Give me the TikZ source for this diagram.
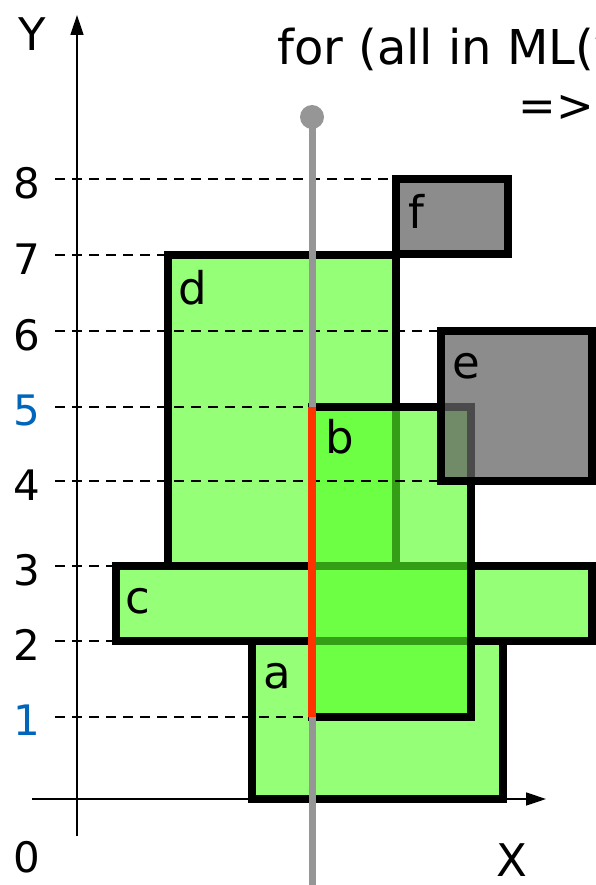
\documentclass[tikz,border=0pt]{standalone}
\usepackage{fontspec}
\setmainfont{DejaVu Sans}
\usetikzlibrary{arrows.meta}
\definecolor{boxgreen}{RGB}{150,255,120}
\definecolor{topgreen}{RGB}{85,255,37}
\definecolor{boxgrey}{RGB}{140,140,140}
\definecolor{lowgrey}{RGB}{101,101,101}
\definecolor{probegrey}{RGB}{150,150,150}
\definecolor{hitred}{RGB}{255,51,0}
\definecolor{tickblue}{RGB}{0,102,187}
\tikzset{
  boxline/.style={draw=black,line width=8pt},
  guideline/.style={draw=black,line width=2pt,dash pattern=on 10pt off 7pt},
  axisline/.style={draw=black,line width=1.5pt,-{Triangle[length=20pt,width=13pt]}},
  bigfont/.style={font=\fontsize{45}{52}\selectfont,inner sep=0pt},
  tickfont/.style={font=\fontsize{42}{48}\selectfont,inner sep=0pt},
}
% #1 x1, #2 y1, #3 x2, #4 y2, #5 extra style
\newcommand{\rbox}[5]{\draw[boxline,#5] (#1,#2) rectangle (#3,#4);}
\newcommand{\rlabel}[3]{\node[bigfont] (lab-#1) at (#2,#3) {#1};}
% #1 level, #2 text, #3 end of guide, #4 colour
\newcommand{\ytick}[4]{%
  \draw[guideline] (55,#1) -- (#3,#1);
  \node[tickfont,text=#4] (tick-#2) at (27,#1+4) {#2};}

\begin{document}
\begin{tikzpicture}[x=1pt,y=-1pt]
  \useasboundingbox (0,0) rectangle (596,885);
  % axes
  \draw[axisline] (77,836) -- (77,15);
  \draw[axisline] (32,799) -- (546,799);
  % boxes below
  \rbox{168}{255}{396}{566}{fill=boxgreen}
  \rbox{116}{566}{592}{640.5}{fill=boxgreen}
  \rbox{252}{640.5}{502.5}{799}{fill=boxgreen}
  \rbox{396}{179}{508}{254}{fill=boxgrey}
  % boxes on top
  \fill[topgreen,fill opacity=0.62] (312,406.5) rectangle (471,716.5);
  \rbox{312}{406.5}{471}{716.5}{}
  \fill[lowgrey,fill opacity=0.75] (441,331) rectangle (592,481);
  \rbox{441}{331}{592}{481}{}
  % guides and tick labels
  \ytick{179}{8}{396}{black}
  \ytick{255}{7}{168}{black}
  \ytick{331}{6}{441}{black}
  \ytick{406.5}{5}{312}{tickblue}
  \ytick{481}{4}{471}{black}
  \ytick{566}{3}{116}{black}
  \ytick{640.5}{2}{116}{black}
  \ytick{716.5}{1}{312}{tickblue}
  % probe line
  \node[circle,fill=probegrey,minimum size=24pt,inner sep=0pt] (probe) at (312,117) {};
  \coordinate (probeend) at (312,885);
  \draw[probegrey,line width=7pt] (probe.center) -- (probeend);
  \coordinate (hittop) at (312,406.5);
  \coordinate (hitbot) at (312,716.5);
  \draw[hitred,line width=8pt] (hittop) -- (hitbot);
  % labels
  \rlabel{f}{416}{211}
  \rlabel{d}{193}{288}
  \rlabel{e}{466}{366}
  \rlabel{b}{340}{437}
  \rlabel{c}{138}{601}
  \rlabel{a}{277}{676}
  \node[bigfont] (ylab) at (32,34) {Y};
  \node[bigfont] (xlab) at (512,860) {X};
  \node[tickfont] (zero) at (27,857) {0};
  \node[font=\fontsize{48}{54}\selectfont,inner sep=0pt,anchor=base west] (query) at (277,65) {for (all in ML(v};
  \node[bigfont] (implies) at (556,108) {=>};
\end{tikzpicture}
\end{document}
